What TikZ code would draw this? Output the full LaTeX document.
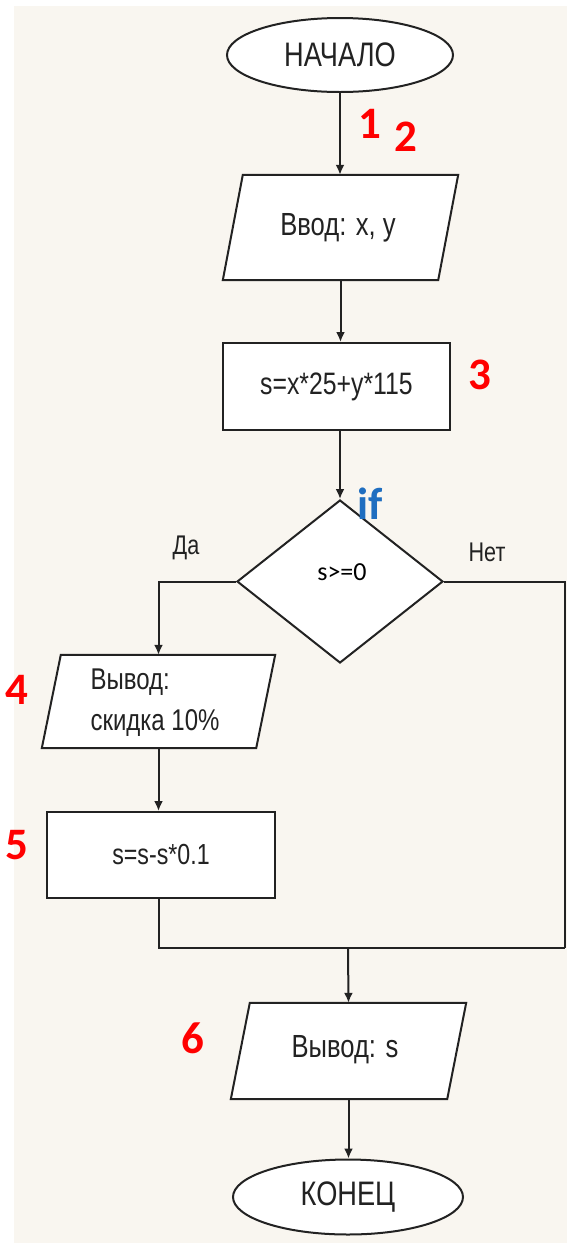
\documentclass[tikz,border=0pt]{standalone}
\usepackage{fontspec}
\usetikzlibrary{shapes.geometric,arrows.meta,calc}
\newfontfamily\flowfont{Liberation Sans}[FakeStretch=0.8]
\newfontfamily\calfont{Carlito}
\definecolor{paper}{HTML}{F9F6F0}
\definecolor{ink}{HTML}{222222}
\definecolor{numred}{HTML}{FF0000}
\definecolor{ifblue}{HTML}{1F6EC0}
\begin{document}
\begin{tikzpicture}[x=1pt,y=-1pt,
  line/.style={draw=ink,line width=2pt},
  flow/.style={line,-{Latex[length=10pt,width=9pt]}},
  term/.style={ellipse,draw=ink,line width=2pt,fill=white,inner sep=0pt,
    font=\flowfont\fontsize{34}{40}\selectfont,text=ink},
  procbox/.style={rectangle,draw=ink,line width=2pt,fill=white,inner sep=0pt,
    font=\flowfont\fontsize{31}{36}\selectfont,text=ink},
  iobox/.style={rectangle,inner sep=0pt,font=\flowfont\fontsize{32}{38}\selectfont,text=ink},
  tag/.style={font=\calfont\bfseries\fontsize{45}{50}\selectfont,text=numred,inner sep=0pt},
  branch/.style={font=\flowfont\fontsize{27}{32}\selectfont,text=ink,inner sep=0pt}]
% page and paper
\useasboundingbox (0,0) rectangle (567,1243);
\fill[white] (0,0) rectangle (567,1243);
\fill[paper] (14,6) rectangle (567,1243);

% parallelogram outline for input/output nodes
\newcommand{\slantbox}[2]{%
  \draw[line,fill=white] ($(#1.north west)+(#2,0)$) -- (#1.north east)
    -- ($(#1.south east)-(#2,0)$) -- (#1.south west) -- cycle;}

% nodes
\node[term,minimum width=226pt,minimum height=74pt] (start) at (340,55) {НАЧАЛО};

\node[iobox,minimum width=235pt,minimum height=105pt] (in) at (340.5,227.5) {};
\slantbox{in}{20}
\node[iobox] (intext) at (338,228) {Ввод: x, y};

\node[procbox,minimum width=227pt,minimum height=87pt] (calc) at (336.5,386.5) {s=x*25+y*115};

\node[diamond,draw=ink,line width=2pt,fill=white,inner sep=0pt,
  minimum width=206pt,minimum height=163pt] (dia) at (340,581.5) {};
\node[font=\calfont\fontsize{26}{30}\selectfont,inner sep=0pt] (cond) at (342,572) {s>=0};

\node[iobox,minimum width=233pt,minimum height=93pt] (out1) at (158.5,701.5) {};
\slantbox{out1}{19}
\node[iobox,font=\flowfont\fontsize{30}{41}\selectfont,align=left] (out1text) at (155,703) {Вывод:\\скидка 10\%};

\node[procbox,minimum width=228pt,minimum height=86pt,
  font=\flowfont\fontsize{29}{34}\selectfont] (disc) at (161,855) {s=s-s*0.1};

\node[iobox,minimum width=235pt,minimum height=96pt] (out2) at (348.5,1051) {};
\slantbox{out2}{19}
\node[iobox] (out2text) at (345,1050) {Вывод: s};

\node[term,minimum width=230pt,minimum height=75pt] (stop) at (348,1197) {КОНЕЦ};

% branch labels and step numbers
\node[branch] (yes) at (186,548) {Да};
\node[branch] (no) at (487,552) {Нет};
\node[font=\calfont\bfseries\fontsize{45}{50}\selectfont,text=ifblue,inner sep=0pt] (iflabel) at (370,504) {if};
\node[tag] (n1) at (370,124) {1};
\node[tag] (n2) at (406,137) {2};
\node[tag] (n3) at (480,375) {3};
\node[tag] (n4) at (17,690) {4};
\node[tag] (n5) at (17,845) {5};
\node[tag] (n6) at (193,1038) {6};

% junction points
\coordinate (corner) at (565,948);
\coordinate (join) at (348,948);

% connectors
\draw[flow] (start.south) -- (start.south |- in.north);
\draw[flow] (in.south) -- (in.south |- calc.north);
\draw[flow] (dia.north |- calc.south) -- (dia.north);
\draw[flow] (dia.west) -| (out1.north);
\draw[flow] (out1.south) -- (out1.south |- disc.north);
\draw[line] (dia.east) -| (corner);
\draw[line] (out1.south |- disc.south) |- (corner);
\draw[flow] (join) -- (out2.north);
\draw[flow] (out2.south) -- (out2.south |- stop.north);
\end{tikzpicture}
\end{document}
